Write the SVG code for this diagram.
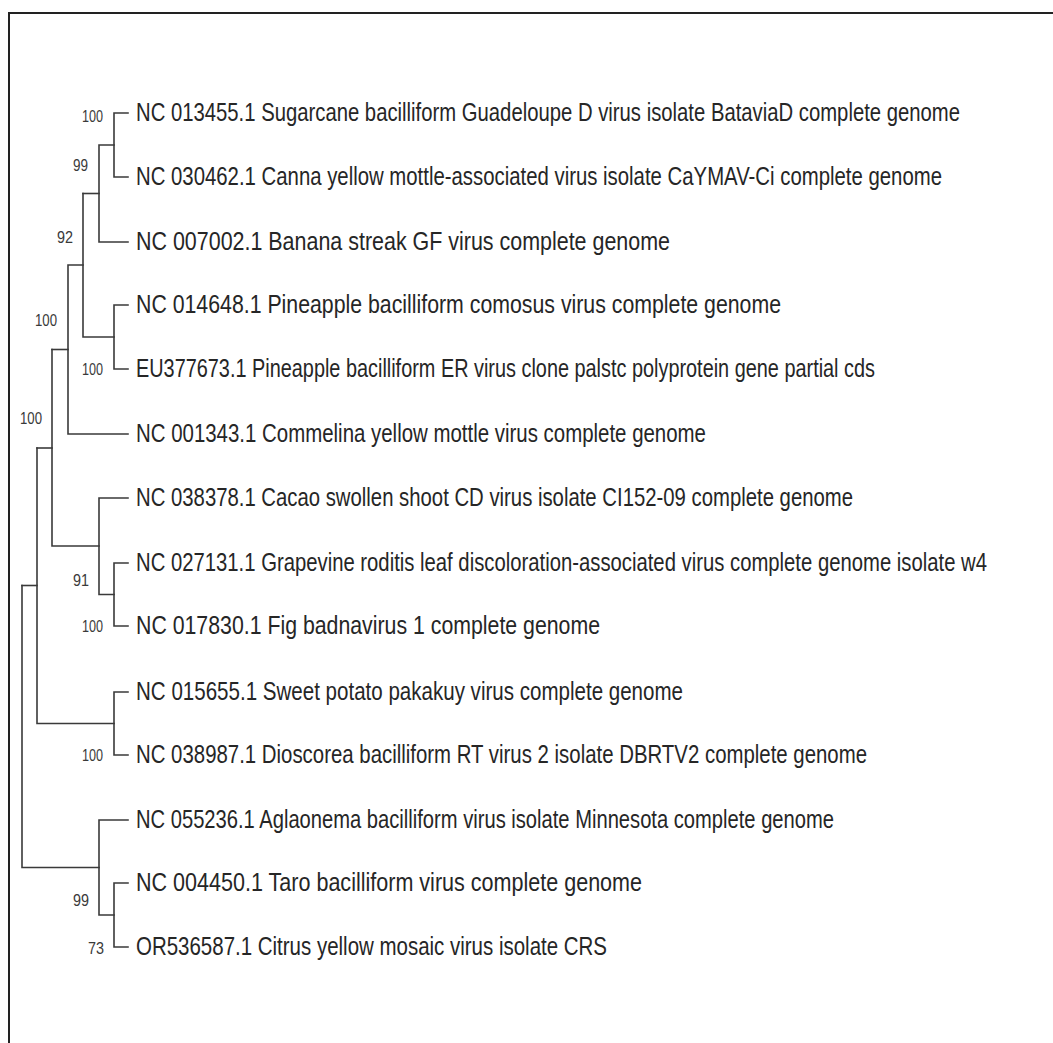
<svg xmlns="http://www.w3.org/2000/svg" width="1053" height="1043" viewBox="0 0 1053 1043">
<style>
.edge{fill:none;stroke:#3a3a3a;stroke-width:1.6;stroke-linecap:square}
.lab{font-family:"Liberation Sans",Arial,sans-serif;font-size:25px;fill:#262626}
.bs{font-family:"Liberation Sans",Arial,sans-serif;font-size:17px;fill:#3a3a3a;text-anchor:end}
.frame{fill:none;stroke:#222;stroke-width:2}
</style>
<rect x="0" y="0" width="1053" height="1043" fill="#fff"/>
<path class="frame" d="M9 1043 V13 H1053"/>
<g id="connectors">
<path class="edge" d="M114 113 V177 M114 113 H128 M114 177 H128"/>
<path class="edge" d="M99 145 H114 M99 145 V242 H128"/>
<path class="edge" d="M83 193.5 H99"/>
<path class="edge" d="M114 305 V369 M114 305 H128 M114 369 H128"/>
<path class="edge" d="M83 337 H114 M83 193.5 V337"/>
<path class="edge" d="M68 265 H83 M68 265 V434 H128"/>
<path class="edge" d="M52 349.5 H68"/>
<path class="edge" d="M114 563 V626 M114 563 H128 M114 626 H128"/>
<path class="edge" d="M99 594.5 H114 M99 498 V594.5 M99 498 H128"/>
<path class="edge" d="M52 546 H99 M52 349.5 V546"/>
<path class="edge" d="M37 448 H52"/>
<path class="edge" d="M114 692 V755 M114 692 H128 M114 755 H128"/>
<path class="edge" d="M37 723.5 H114 M37 448 V723.5"/>
<path class="edge" d="M22 585.5 H37"/>
<path class="edge" d="M114 883 V947 M114 883 H128 M114 947 H128"/>
<path class="edge" d="M99 915 H114 M99 820 V915 M99 820 H128"/>
<path class="edge" d="M22 867.5 H99 M22 585.5 V867.5"/>
</g>
<g id="leaf1"><text class="lab" transform="translate(136 121) scale(0.82 1)" textLength="1004.9" lengthAdjust="spacingAndGlyphs">NC 013455.1 Sugarcane bacilliform Guadeloupe D virus isolate BataviaD complete genome</text></g>
<g id="leaf2"><text class="lab" transform="translate(136 185) scale(0.82 1)" textLength="982.9" lengthAdjust="spacingAndGlyphs">NC 030462.1 Canna yellow mottle-associated virus isolate CaYMAV-Ci complete genome</text></g>
<g id="leaf3"><text class="lab" transform="translate(136 250) scale(0.82 1)" textLength="651.2" lengthAdjust="spacingAndGlyphs">NC 007002.1 Banana streak GF virus complete genome</text></g>
<g id="leaf4"><text class="lab" transform="translate(136 313) scale(0.82 1)" textLength="786.6" lengthAdjust="spacingAndGlyphs">NC 014648.1 Pineapple bacilliform comosus virus complete genome</text></g>
<g id="leaf5"><text class="lab" transform="translate(136 377) scale(0.82 1)" textLength="901.2" lengthAdjust="spacingAndGlyphs">EU377673.1 Pineapple bacilliform ER virus clone palstc polyprotein gene partial cds</text></g>
<g id="leaf6"><text class="lab" transform="translate(136 442) scale(0.82 1)" textLength="695.1" lengthAdjust="spacingAndGlyphs">NC 001343.1 Commelina yellow mottle virus complete genome</text></g>
<g id="leaf7"><text class="lab" transform="translate(136 506) scale(0.82 1)" textLength="874.4" lengthAdjust="spacingAndGlyphs">NC 038378.1 Cacao swollen shoot CD virus isolate CI152-09 complete genome</text></g>
<g id="leaf8"><text class="lab" transform="translate(136 571) scale(0.82 1)" textLength="1037.8" lengthAdjust="spacingAndGlyphs">NC 027131.1 Grapevine roditis leaf discoloration-associated virus complete genome isolate w4</text></g>
<g id="leaf9"><text class="lab" transform="translate(136 634) scale(0.82 1)" textLength="565.9" lengthAdjust="spacingAndGlyphs">NC 017830.1 Fig badnavirus 1 complete genome</text></g>
<g id="leaf10"><text class="lab" transform="translate(136 700) scale(0.82 1)" textLength="667.1" lengthAdjust="spacingAndGlyphs">NC 015655.1 Sweet potato pakakuy virus complete genome</text></g>
<g id="leaf11"><text class="lab" transform="translate(136 763) scale(0.82 1)" textLength="891.5" lengthAdjust="spacingAndGlyphs">NC 038987.1 Dioscorea bacilliform RT virus 2 isolate DBRTV2 complete genome</text></g>
<g id="leaf12"><text class="lab" transform="translate(136 828) scale(0.82 1)" textLength="851.2" lengthAdjust="spacingAndGlyphs">NC 055236.1 Aglaonema bacilliform virus isolate Minnesota complete genome</text></g>
<g id="leaf13"><text class="lab" transform="translate(136 891) scale(0.82 1)" textLength="617.1" lengthAdjust="spacingAndGlyphs">NC 004450.1 Taro bacilliform virus complete genome</text></g>
<g id="leaf14"><text class="lab" transform="translate(136 955) scale(0.82 1)" textLength="574.4" lengthAdjust="spacingAndGlyphs">OR536587.1 Citrus yellow mosaic virus isolate CRS</text></g>
<g id="bs1"><text class="bs" transform="translate(103 122) scale(0.8 1)" textLength="26.3" lengthAdjust="spacingAndGlyphs">100</text></g>
<g id="bs2"><text class="bs" transform="translate(88 171) scale(0.8 1)" textLength="18.8" lengthAdjust="spacingAndGlyphs">99</text></g>
<g id="bs3"><text class="bs" transform="translate(73 243) scale(0.8 1)" textLength="20" lengthAdjust="spacingAndGlyphs">92</text></g>
<g id="bs4"><text class="bs" transform="translate(57 326) scale(0.8 1)" textLength="27.5" lengthAdjust="spacingAndGlyphs">100</text></g>
<g id="bs5"><text class="bs" transform="translate(103 375) scale(0.8 1)" textLength="26.3" lengthAdjust="spacingAndGlyphs">100</text></g>
<g id="bs6"><text class="bs" transform="translate(42 424) scale(0.8 1)" textLength="27.5" lengthAdjust="spacingAndGlyphs">100</text></g>
<g id="bs7"><text class="bs" transform="translate(89 586) scale(0.8 1)" textLength="20" lengthAdjust="spacingAndGlyphs">91</text></g>
<g id="bs8"><text class="bs" transform="translate(103 632) scale(0.8 1)" textLength="26.3" lengthAdjust="spacingAndGlyphs">100</text></g>
<g id="bs9"><text class="bs" transform="translate(103 761) scale(0.8 1)" textLength="26.3" lengthAdjust="spacingAndGlyphs">100</text></g>
<g id="bs10"><text class="bs" transform="translate(89 906) scale(0.8 1)" textLength="20" lengthAdjust="spacingAndGlyphs">99</text></g>
<g id="bs11"><text class="bs" transform="translate(104 954) scale(0.8 1)" textLength="20" lengthAdjust="spacingAndGlyphs">73</text></g>
</svg>
